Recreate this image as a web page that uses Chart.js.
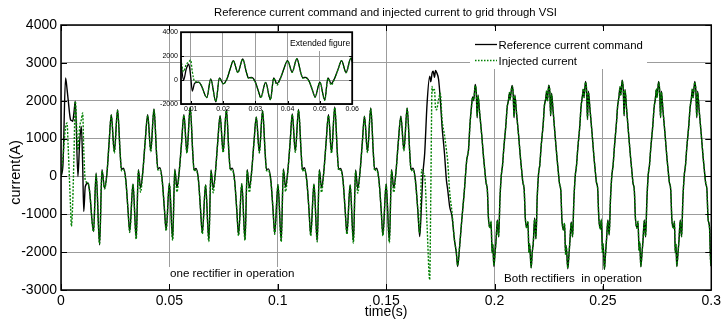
<!DOCTYPE html>
<html><head><meta charset="utf-8">
<script src="https://cdn.jsdelivr.net/npm/chart.js@4.4.1/dist/chart.umd.min.js"></script>
<style>
html,body{margin:0;padding:0;background:#fff;}
#wrap{position:relative;width:724px;height:327px;overflow:hidden;background:#fff;}
#main{position:absolute;left:0;top:0;}
#inset{position:absolute;left:150px;top:25px;}
</style></head><body>
<div id="wrap"><canvas id="main" width="724" height="327"></canvas><canvas id="inset" width="210" height="92"></canvas></div>
<script>
const chartTitle = 'Reference current command and injected current to grid through VSI';
const xAxisTitle = 'time(s)';
const yAxisTitle = 'current(A)';
const seriesNames = ['Reference current command', 'Injected current'];
const noteOne = 'one rectifier in operation';
const noteBoth = 'Both rectifiers  in operation';
const insetNote = 'Extended figure';

const xTicks = [0, 0.05, 0.1, 0.15, 0.2, 0.25, 0.3];
const xTickLabels = ['0', '0.05', '0.1', '0.15', '0.2', '0.25', '0.3'];
const yTicks = [-3000, -2000, -1000, 0, 1000, 2000, 3000, 4000];
const yTickLabels = ['-3000', '-2000', '-1000', '0', '1000', '2000', '3000', '4000'];
const insetXTicks = [0.01, 0.02, 0.03, 0.04, 0.05, 0.06];
const insetXTickLabels = ['0.01', '0.02', '0.03', '0.04', '0.05', '0.06'];
const insetYTicks = [-2000, 0, 2000, 4000];
const insetYTickLabels = ['-2000', '0', '2000', '4000'];

// time in milliseconds
const timeMs = [
  0, 0.9, 2.1, 2.8, 3.3, 4.4, 4.8, 5.4, 6.0, 6.6, 7.8, 8.6, 9.4, 10.0, 10.5, 11.2, 12.5, 13.2, 15.0, 16.2, 17.8, 18.9, 20.1, 21.2, 22.2,
  23.2, 24.6, 26.1, 27.3, 27.9, 28.8, 29.9, 30.9, 31.7, 33.2, 34.7, 35.7, 36.7, 37.7, 38.8,
  40.0, 41.4, 42.9, 44.1, 44.7, 45.6, 46.7, 47.7, 48.5, 50.0, 51.5, 52.5, 53.5, 54.5, 55.6,
  56.7, 58.1, 59.6, 60.8, 61.4, 62.3, 63.4, 64.4, 65.2, 66.7, 68.2, 69.2, 70.2, 71.2, 72.3,
  73.4, 74.8, 76.3, 77.5, 78.1, 79.0, 80.1, 81.1, 81.9, 83.4, 84.9, 85.9, 86.9, 87.9, 89.0,
  90.1, 91.5, 93.0, 94.2, 94.8, 95.7, 96.8, 97.8, 98.6, 100.1, 101.6, 102.6, 103.6, 104.6, 105.7,
  106.7, 108.1, 109.6, 110.8, 111.4, 112.3, 113.4, 114.4, 115.2, 116.7, 118.2, 119.2, 120.2, 121.2, 122.3,
  123.4, 124.8, 126.3, 127.5, 128.1, 129.0, 130.1, 131.1, 131.9, 133.4, 134.9, 135.9, 136.9, 137.9, 139.0,
  140.0, 141.4, 142.9, 144.1, 144.7, 145.6, 146.7, 147.7, 148.5, 150.0, 151.5, 152.5, 153.5, 154.5, 155.6,
  156.8, 158.2, 159.7, 160.9, 161.5, 162.4, 163.5, 164.6, 165.5, 166.4, 167.0, 167.8, 168.9, 170.1, 170.6, 171.2, 171.7, 172.3, 172.8, 173.2,
  174.2, 175.0, 175.8, 176.9, 177.8, 178.4, 179.3, 180.4, 181.5, 182.4, 183.0, 183.9, 184.9, 186.0, 187.2, 188.0,
  188.7, 189.3, 189.9, 190.4, 191.1, 191.6, 192.0, 192.4, 193.1, 194.1, 194.9, 195.5, 196.1, 196.7, 197.2, 197.9, 198.4, 198.9, 199.2,
  199.7, 200.2, 200.7, 201.3, 201.9, 202.5, 203.1, 203.7, 204.3, 205.3, 205.8, 206.4, 206.9, 207.2, 208.1, 208.6, 209.0, 209.4, 210.1, 211.1, 211.9, 212.5, 213.1, 213.7, 214.2, 214.9, 215.4, 215.9, 216.2,
  216.9, 217.4, 217.9, 218.5, 219.1, 219.7, 220.3, 220.9, 221.5, 222.5, 223.0, 223.6, 224.1, 224.4, 225.0, 225.5, 225.9, 226.3, 227.0, 228.0, 228.8, 229.4, 230.0, 230.6, 231.1, 231.8, 232.3, 232.8, 233.1,
  233.8, 234.3, 234.8, 235.4, 236.0, 236.6, 237.2, 237.8, 238.4, 239.4, 239.9, 240.5, 241.0, 241.3, 242.0, 242.5, 242.9, 243.3, 244.0, 245.0, 245.8, 246.4, 247.0, 247.6, 248.1, 248.8, 249.3, 249.8, 250.1,
  250.7, 251.2, 251.7, 252.3, 252.9, 253.5, 254.1, 254.7, 255.3, 256.3, 256.8, 257.4, 257.9, 258.2, 258.9, 259.4, 259.8, 260.2, 260.9, 261.9, 262.7, 263.3, 263.9, 264.5, 265.0, 265.7, 266.2, 266.7, 267.0,
  267.5, 268.0, 268.5, 269.1, 269.7, 270.3, 270.9, 271.5, 272.1, 273.1, 273.6, 274.2, 274.7, 275.0, 275.7, 276.2, 276.6, 277.0, 277.7, 278.7, 279.5, 280.1, 280.7, 281.3, 281.8, 282.5, 283.0, 283.4, 283.7,
  284.1, 284.6, 285.1, 285.7, 286.3, 286.9, 287.5, 288.1, 288.7, 289.7, 290.2, 290.8, 291.3, 291.6, 292.4, 292.9, 293.3, 293.7, 294.4, 295.4, 296.2, 296.8, 297.4, 298.0, 298.5, 299.2, 299.8, 300.0
];

// Reference current command (A)
const refCurrent = [
  0, 300, 2600, 2300, 2030, 1500, 1480, 1455, 1700, 1985, 0, 900, 1320, 300, -925, -265, -175, -400, -1455, 90, -1810, 180, -310, 90, 900,
  1630, 650, 1760, 600, 180, 220, -90, -880, -1450, -200, -1630, 180, -300, 100, 900,
  1630, 680, 1780, 580, 200, 230, -100, -860, -1410, -180, -1660, 190, -290, 110, 880,
  1630, 640, 1835, 610, 170, 210, -80, -900, -1490, -220, -1690, 170, -310, 90, 910,
  1605, 660, 1760, 590, 190, 220, -100, -890, -1540, -190, -1660, 180, -300, 100, 890,
  1570, 650, 1740, 600, 180, 200, -90, -870, -1500, -210, -1700, 200, -280, 120, 900,
  1650, 670, 1770, 620, 170, 230, -110, -880, -1540, -200, -1700, 180, -300, 100, 900,
  1630, 640, 1835, 600, 190, 210, -90, -900, -1500, -220, -1730, 170, -320, 90, 890,
  1590, 660, 1810, 610, 180, 220, -100, -880, -1540, -200, -1720, 180, -300, 100, 900,
  1590, 700, 1810, 620, 180, 220, -90, -880, -1590, -620, 90, 620, 1940, 2650, 2500, 2730, 2780, 2620, 2800, 2760,
  2560, 2030, 1320, 620, -90, -350, -790, -1060, -1670, -2030, -2380, -1850, -1150, -440, 440, 700,
  1400, 1800, 2100, 2000, 2430, 2200, 1550, 2150, 1700, 1100, 530, 180, -170, -350, -1100, -1350, -1200, -2000, -1800,
  -2380, -2050, -1700, -1150, -1600, -600, 0, 300, 750, 1400, 1800, 2000, 2200, 2050, 2400, 2200, 1550, 2150, 1700, 1100, 530, 180, -170, -350, -1100, -1350, -1200, -2000, -1800,
  -2420, -2000, -1750, -1100, -1650, -550, 50, 320, 780, 1420, 1850, 2050, 2250, 2000, 2410, 2250, 1600, 2200, 1750, 1050, 500, 150, -200, -380, -1150, -1400, -1250, -2050, -1850,
  -2440, -2100, -1700, -1200, -1600, -650, -20, 280, 720, 1380, 1820, 2100, 2300, 2100, 2510, 2250, 1500, 2250, 1800, 1150, 560, 200, -150, -320, -1080, -1380, -1150, -2000, -1800,
  -2460, -2050, -1650, -1150, -1550, -600, 0, 300, 760, 1450, 1850, 2100, 2350, 2150, 2540, 2300, 1600, 2300, 1800, 1100, 540, 190, -180, -360, -1100, -1350, -1200, -1950, -1750,
  -2390, -2050, -1700, -1150, -1600, -620, 20, 310, 750, 1400, 1800, 2050, 2300, 2100, 2510, 2250, 1550, 2250, 1750, 1100, 520, 170, -170, -350, -1120, -1360, -1200, -2000, -1800,
  -2380, -2050, -1700, -1150, -1600, -600, 0, 300, 750, 1400, 1800, 2050, 2300, 2100, 2510, 2250, 1550, 2250, 1750, 1100, 530, 180, -170, -350, -1100, -1350, -2360, -2100
];

// Injected current (A)
const injCurrent = [
  0, 500, 1300, 1410, 800, -800, -1320, -700, 600, 1985, 700, 1300, 1500, 1680, 700, -100, -175, -400, -1455, 50, -1780, 150, -330, 80, 900,
  1610, 620, 1740, 620, 150, 180, -130, -860, -1480, -210, -1660, 150, -420, 80, 880,
  1610, 650, 1760, 600, 170, 190, -140, -840, -1440, -190, -1690, 160, -410, 90, 860,
  1610, 610, 1815, 630, 140, 170, -120, -880, -1520, -230, -1720, 140, -430, 70, 890,
  1585, 630, 1740, 610, 160, 180, -140, -870, -1570, -200, -1690, 150, -420, 80, 870,
  1550, 620, 1720, 620, 150, 160, -130, -850, -1530, -220, -1730, 170, -400, 100, 880,
  1630, 640, 1750, 640, 140, 190, -150, -860, -1570, -210, -1730, 150, -420, 80, 880,
  1610, 610, 1815, 620, 160, 170, -130, -880, -1530, -230, -1760, 140, -440, 70, 870,
  1570, 630, 1790, 630, 150, 180, -140, -860, -1570, -210, -1750, 150, -420, 80, 880,
  1570, 680, 1790, 620, 150, 180, -130, -860, -1500, 180, 100, 0, -1320, -2730, -500, 2380, 2250, 2300, 1800, 1760,
  2030, 2200, 1500, 1100, 700, 400, -400, -950, -1670, -2000, -2350, -1850, -1150, -440, 440, 700,
  1380, 1780, 2080, 2020, 2400, 2230, 1600, 2120, 1720, 1080, 550, 160, -150, -370, -1080, -1370, -1180, -2020, -1780,
  -2350, -2080, -1680, -1180, -1580, -620, 20, 280, 770, 1380, 1820, 1980, 2220, 2030, 2380, 2230, 1580, 2120, 1720, 1080, 550, 160, -150, -370, -1080, -1370, -1180, -2020, -1780,
  -2400, -2030, -1730, -1130, -1630, -570, 70, 300, 800, 1400, 1870, 2030, 2270, 1980, 2390, 2270, 1630, 2170, 1770, 1030, 520, 130, -180, -400, -1130, -1420, -1230, -2070, -1830,
  -2420, -2130, -1680, -1230, -1580, -670, 0, 260, 740, 1360, 1840, 2080, 2320, 2080, 2490, 2270, 1530, 2220, 1820, 1130, 580, 180, -130, -340, -1060, -1400, -1130, -2020, -1780,
  -2440, -2080, -1630, -1180, -1530, -620, 20, 280, 780, 1430, 1870, 2080, 2370, 2130, 2520, 2320, 1630, 2270, 1820, 1080, 560, 170, -160, -380, -1080, -1370, -1180, -1970, -1730,
  -2370, -2080, -1680, -1180, -1580, -640, 40, 290, 770, 1380, 1820, 2030, 2320, 2080, 2490, 2270, 1580, 2220, 1770, 1080, 540, 150, -150, -370, -1100, -1380, -1180, -2020, -1780,
  -2360, -2080, -1680, -1180, -1580, -620, 20, 280, 770, 1380, 1820, 2030, 2320, 2080, 2490, 2270, 1580, 2220, 1770, 1080, 550, 160, -150, -370, -1080, -1370, -2340, -2080
];

if (timeMs.length !== refCurrent.length || timeMs.length !== injCurrent.length) {
  console.error('length mismatch', timeMs.length, refCurrent.length, injCurrent.length);
}

const FONT = "'Liberation Sans', Arial, Helvetica, sans-serif";
Chart.defaults.font.family = FONT;
Chart.defaults.color = '#000';

const refPts = timeMs.map((t, i) => ({ x: t / 1000, y: refCurrent[i] }));
const injPts = timeMs.map((t, i) => ({ x: t / 1000, y: injCurrent[i] }));

const GRID = '#9c9c9c';
const GREEN = '#008000';

function datasets(w) {
  return [
    { label: seriesNames[1], data: injPts, borderColor: GREEN, borderWidth: w, borderDash: [2, 1.5],
      pointRadius: 0, fill: false, order: 0, cubicInterpolationMode: 'monotone' },
    { label: seriesNames[0], data: refPts, borderColor: '#000', borderWidth: w,
      pointRadius: 0, fill: false, order: 1, cubicInterpolationMode: 'monotone' }
  ];
}

const mainDecor = {
  id: 'mainDecor',
  afterDraw(chart) {
    const { ctx, chartArea: a, scales: { x, y } } = chart;
    ctx.save();
    // white backgrounds of the text boxes
    ctx.fillStyle = '#fff';
    ctx.fillRect(166, 267, 131, 17);
    ctx.fillRect(497, 270, 149, 16);
    ctx.fillRect(470, 27, 177, 42);
    // frame
    ctx.strokeStyle = '#000';
    ctx.lineWidth = 1.5;
    ctx.strokeRect(a.left, a.top, a.right - a.left, a.bottom - a.top);
    // inward tick marks
    ctx.lineWidth = 1;
    ctx.beginPath();
    xTicks.forEach(v => {
      const px = Math.round(x.getPixelForValue(v)) + 0.5;
      ctx.moveTo(px, a.bottom); ctx.lineTo(px, a.bottom - 6);
      ctx.moveTo(px, a.top); ctx.lineTo(px, a.top + 6);
    });
    yTicks.forEach(v => {
      const py = Math.round(y.getPixelForValue(v)) + 0.5;
      ctx.moveTo(a.left, py); ctx.lineTo(a.left + 6, py);
      ctx.moveTo(a.right, py); ctx.lineTo(a.right - 6, py);
    });
    ctx.stroke();
    // texts
    ctx.fillStyle = '#000';
    ctx.textBaseline = 'alphabetic';
    ctx.textAlign = 'center';
    ctx.font = '11.3px ' + FONT;
    ctx.fillText(chartTitle, 385.5, 15.5);
    ctx.textAlign = 'left';
    ctx.font = '11.6px ' + FONT;
    ctx.fillText(noteOne, 170, 277);
    ctx.fillText(noteBoth, 504, 282);
    // legend
    ctx.font = '11.4px ' + FONT;
    ctx.fillText(seriesNames[0], 498.5, 48.5);
    ctx.fillText(seriesNames[1], 498.5, 64.5);
    ctx.lineWidth = 1.3;
    ctx.strokeStyle = '#000';
    ctx.beginPath(); ctx.moveTo(475, 44.5); ctx.lineTo(497, 44.5); ctx.stroke();
    ctx.strokeStyle = GREEN;
    ctx.setLineDash([1.5, 1.5]);
    ctx.beginPath(); ctx.moveTo(475, 60.5); ctx.lineTo(497, 60.5); ctx.stroke();
    ctx.setLineDash([]);
    // y axis title
    ctx.translate(20.3, 172.5);
    ctx.rotate(-Math.PI / 2);
    ctx.textAlign = 'center';
    ctx.font = '14.5px ' + FONT;
    ctx.fillText(yAxisTitle, 0, 0);
    ctx.restore();
  }
};

new Chart(document.getElementById('main'), {
  type: 'line',
  data: { datasets: datasets(1.4) },
  options: {
    responsive: false, animation: false, devicePixelRatio: 1,
    layout: { padding: { left: 0, right: 10, top: 25, bottom: 0 } },
    plugins: { legend: { display: false }, tooltip: { enabled: false }, title: { display: false } },
    scales: {
      x: {
        type: 'linear', min: 0, max: 0.3,
        afterBuildTicks: s => { s.ticks = xTicks.map(v => ({ value: v })); },
        afterFit: s => { s.height = 37; },
        ticks: { callback: (v, i) => xTickLabels[i], font: { size: 14 }, color: '#000', padding: 3, maxRotation: 0, autoSkip: false },
        grid: { color: GRID, lineWidth: 1, drawTicks: false },
        border: { display: false },
        title: { display: true, text: xAxisTitle, font: { size: 14 }, color: '#000', padding: { top: 0, bottom: 6 } }
      },
      y: {
        type: 'linear', min: -3000, max: 4000,
        afterBuildTicks: s => { s.ticks = yTicks.map(v => ({ value: v })); },
        afterFit: s => { s.width = 61; },
        ticks: { callback: (v, i) => yTickLabels[i], font: { size: 14 }, color: '#000', padding: 4, autoSkip: false },
        grid: { color: GRID, lineWidth: 1, drawTicks: false },
        border: { display: false }
      }
    }
  },
  plugins: [mainDecor]
});

const insetDecor = {
  id: 'insetDecor',
  beforeDraw(chart) {
    const { ctx, chartArea: a } = chart;
    ctx.save();
    ctx.fillStyle = '#fff';
    ctx.fillRect(a.left, a.top, a.right - a.left, a.bottom - a.top);
    ctx.restore();
  },
  afterDraw(chart) {
    const { ctx, chartArea: a, scales: { x, y } } = chart;
    ctx.save();
    ctx.fillStyle = '#fff';
    ctx.fillRect(139, 6, 63, 20);
    ctx.fillStyle = '#000';
    ctx.font = '8.6px ' + FONT;
    ctx.textBaseline = 'alphabetic';
    ctx.textAlign = 'left';
    ctx.fillText(insetNote, 140, 21.2);
    ctx.strokeStyle = '#000';
    ctx.lineWidth = 1;
    ctx.beginPath();
    insetXTicks.forEach(v => {
      const px = Math.round(x.getPixelForValue(v)) + 0.5;
      ctx.moveTo(px, a.bottom); ctx.lineTo(px, a.bottom - 3);
    });
    insetYTicks.forEach(v => {
      const py = Math.round(y.getPixelForValue(v)) + 0.5;
      ctx.moveTo(a.left, py); ctx.lineTo(a.left + 3, py);
      ctx.moveTo(a.right, py); ctx.lineTo(a.right - 3, py);
    });
    ctx.stroke();
    ctx.lineWidth = 1.8;
    ctx.strokeRect(a.left, a.top, a.right - a.left, a.bottom - a.top);
    ctx.restore();
  }
};

new Chart(document.getElementById('inset'), {
  type: 'line',
  data: { datasets: datasets(1.3) },
  options: {
    responsive: false, animation: false, devicePixelRatio: 1,
    layout: { padding: { left: 0, right: 7, top: 5, bottom: 0 } },
    plugins: { legend: { display: false }, tooltip: { enabled: false }, title: { display: false } },
    scales: {
      x: {
        type: 'linear', min: 0.007, max: 0.06,
        afterBuildTicks: s => { s.ticks = insetXTicks.map(v => ({ value: v })); },
        afterFit: s => { s.height = 13; },
        ticks: { callback: (v, i) => insetXTickLabels[i], font: { size: 7 }, color: '#000', padding: 1, maxRotation: 0, autoSkip: false },
        grid: { color: GRID, lineWidth: 1, drawTicks: false },
        border: { display: false }
      },
      y: {
        type: 'linear', min: -2000, max: 4000,
        afterBuildTicks: s => { s.ticks = insetYTicks.map(v => ({ value: v })); },
        afterFit: s => { s.width = 31; },
        ticks: { callback: (v, i) => insetYTickLabels[i], font: { size: 7 }, color: '#000', padding: 3, autoSkip: false },
        grid: { color: GRID, lineWidth: 1, drawTicks: false },
        border: { display: false }
      }
    }
  },
  plugins: [insetDecor]
});
</script>
</body></html>
